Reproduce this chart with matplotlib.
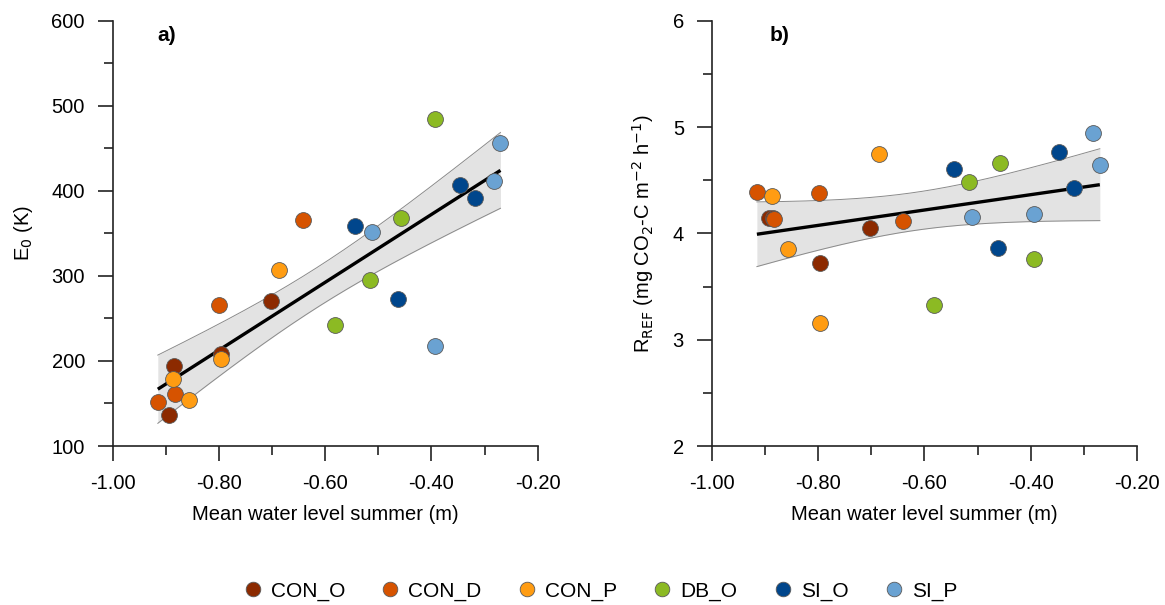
import numpy as np
import matplotlib
matplotlib.use("Agg")
import matplotlib.pyplot as plt
from matplotlib.ticker import MultipleLocator, FormatStrFormatter
from matplotlib.lines import Line2D

plt.rcParams['font.family'] = ['Liberation Sans', 'DejaVu Sans']

# Site groups, colours and per-site data
groups = ["CON_O", "CON_D", "CON_P", "DB_O", "SI_O", "SI_P"]
colors = ["#8c2a00", "#d65300", "#ff9c12", "#8cba23", "#00468c", "#6aa2d2"]

# Mean summer water level (m)
wl_con_o = [-0.893, -0.884, -0.796, -0.702]
wl_con_d = [-0.915, -0.883, -0.799, -0.641]
wl_con_p = [-0.887, -0.857, -0.796, -0.686]
wl_db_o = [-0.581, -0.516, -0.457, -0.393]
wl_si_o = [-0.544, -0.462, -0.346, -0.318]
wl_si_p = [-0.511, -0.393, -0.282, -0.270]

# Activation energy E0 (K)
e0_con_o = [136.7, 194.2, 208.3, 270.6]
e0_con_d = [152.0, 161.7, 265.6, 365.8]
e0_con_p = [178.6, 154.0, 202.8, 306.7]
e0_db_o = [242.8, 295.3, 368.0, 484.5]
e0_si_o = [358.4, 273.0, 406.6, 391.7]
e0_si_p = [351.3, 217.4, 411.6, 456.0]

# Reference respiration R_REF (mg CO2-C m-2 h-1)
rref_con_o = [4.14, 4.145, 3.72, 4.047]
rref_con_d = [4.389, 4.135, 4.379, 4.113]
rref_con_p = [4.351, 3.855, 3.159, 4.746]
rref_db_o = [3.325, 4.482, 4.661, 3.758]
rref_si_o = [4.602, 3.859, 4.762, 4.423]
rref_si_p = [4.153, 4.179, 4.941, 4.640]

wl = [wl_con_o, wl_con_d, wl_con_p, wl_db_o, wl_si_o, wl_si_p]
e0 = [e0_con_o, e0_con_d, e0_con_p, e0_db_o, e0_si_o, e0_si_p]
rref = [rref_con_o, rref_con_d, rref_con_p, rref_db_o, rref_si_o, rref_si_p]

T_975 = 2.074  # Student t, 95 % two-sided, 22 d.f.
FS = 14.5


def fit_with_band(ax, xs, ys):
    x = np.concatenate([np.asarray(v, float) for v in xs])
    y = np.concatenate([np.asarray(v, float) for v in ys])
    n = len(x)
    b, a = np.polyfit(x, y, 1)
    resid = y - (a + b * x)
    s = np.sqrt(np.sum(resid ** 2) / (n - 2))
    xg = np.linspace(x.min(), x.max(), 200)
    yg = a + b * xg
    se = s * np.sqrt(1.0 / n + (xg - x.mean()) ** 2 / np.sum((x - x.mean()) ** 2))
    lo, hi = yg - T_975 * se, yg + T_975 * se
    ax.fill_between(xg, lo, hi, color="#e3e3e3", lw=0, zorder=1)
    ax.plot(xg, lo, color="#8a8a8a", lw=0.7, zorder=1.5)
    ax.plot(xg, hi, color="#8a8a8a", lw=0.7, zorder=1.5)
    ax.plot(xg, yg, color="black", lw=2.4, zorder=2, solid_capstyle="butt")


def style_axis(ax):
    for side in ("top", "right"):
        ax.spines[side].set_visible(False)
    for side in ("left", "bottom"):
        ax.spines[side].set_linewidth(1.2)
        ax.spines[side].set_color("#222222")
    ax.set_xlim(-1.0, -0.2)
    ax.xaxis.set_major_locator(MultipleLocator(0.2))
    ax.xaxis.set_minor_locator(MultipleLocator(0.1))
    ax.xaxis.set_major_formatter(FormatStrFormatter("%.2f"))
    ax.tick_params(which="major", length=11, width=1.2, labelsize=FS,
                   color="#222222", pad=9)
    ax.tick_params(which="minor", length=6.5, width=1.2, color="#222222")
    ax.set_xlabel("Mean water level summer (m)", fontsize=FS, labelpad=9)


fig = plt.figure(figsize=(11.65, 6.05), dpi=100)
ax1 = fig.add_axes([0.0967, 0.2628, 0.3648, 0.7030])
ax2 = fig.add_axes([0.6109, 0.2628, 0.3651, 0.7030])

for ax, ys in ((ax1, e0), (ax2, rref)):
    fit_with_band(ax, wl, ys)
    for xv, yv, c in zip(wl, ys, colors):
        ax.scatter(xv, yv, s=130, color=c, edgecolor="#5a5a5a",
                   linewidth=0.6, zorder=3)
    style_axis(ax)

ax1.set_ylim(100, 600)
ax1.yaxis.set_major_locator(MultipleLocator(100))
ax1.yaxis.set_minor_locator(MultipleLocator(50))
ax1.set_ylabel("E$_0$ (K)", fontsize=FS, labelpad=12)
ax1.text(0.106, 0.965, "a)", transform=ax1.transAxes, fontsize=15,
         fontweight="bold", va="center")

ax2.set_ylim(2, 6)
ax2.yaxis.set_major_locator(MultipleLocator(1))
ax2.yaxis.set_minor_locator(MultipleLocator(0.5))
ax2.set_ylabel("R$_{\\mathrm{REF}}$ (mg CO$_2$-C m$^{-2}$ h$^{-1}$)",
               fontsize=FS, labelpad=12)
ax2.text(0.137, 0.965, "b)", transform=ax2.transAxes, fontsize=15,
         fontweight="bold", va="center")

handles = [Line2D([], [], ls="", marker="o", markersize=10.5,
                  markerfacecolor=c, markeredgecolor="#5a5a5a",
                  markeredgewidth=0.6) for c in colors]
fig.legend(handles, groups, loc="center", bbox_to_anchor=(0.516, 0.023),
           ncol=6, frameon=False, fontsize=15, handletextpad=0.51,
           columnspacing=1.83, handlelength=0.7, borderpad=0.2)

fig.savefig("out.png", dpi=100)
